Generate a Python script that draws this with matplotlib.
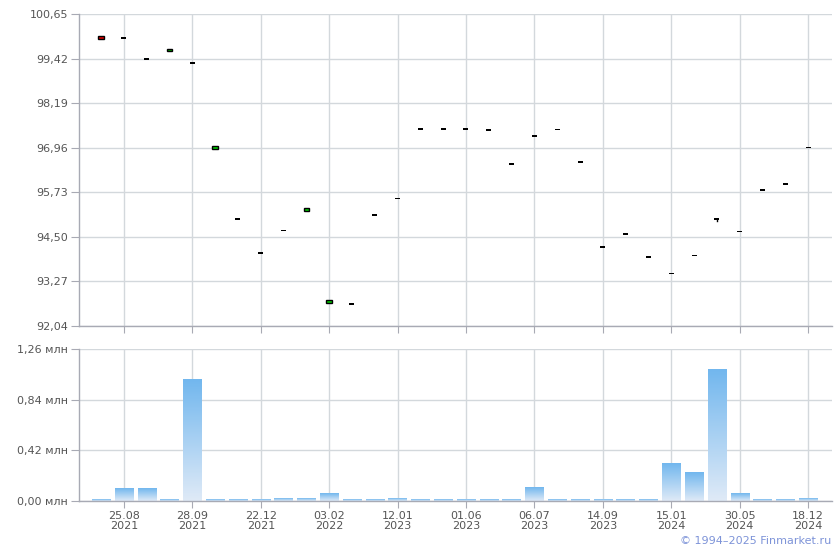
import numpy as np
import matplotlib.pyplot as plt
from matplotlib.patches import Rectangle
from matplotlib.colors import LinearSegmentedColormap

# price candles (open / close / high / low), one per period
opens = [100.04, 99.98, 99.40, 99.62, 99.30, 96.93, 94.99, 94.05, 94.67, 95.22,
         92.68, 92.64, 95.10, 95.56, 97.48, 97.48, 97.48, 97.45, 96.51, 97.28,
         97.46, 96.57, 94.22, 94.58, 93.94, 93.49, 93.99, 94.99, 94.65, 95.79,
         95.96, 96.97]
closes = [99.97, 99.98, 99.40, 99.68, 99.30, 97.01, 94.99, 94.05, 94.67, 95.29,
          92.76, 92.64, 95.10, 95.56, 97.48, 97.48, 97.48, 97.45, 96.51, 97.28,
          97.46, 96.57, 94.22, 94.58, 93.94, 93.49, 93.99, 94.99, 94.65, 95.79,
          95.96, 96.97]
highs = [max(o, c) for o, c in zip(opens, closes)]
lows = [min(o, c) for o, c in zip(opens, closes)]
lows[27] = 94.93

# volume, млн
volumes = [0.01, 0.10, 0.10, 0.01, 1.005, 0.01, 0.01, 0.01, 0.02, 0.02,
           0.06, 0.01, 0.01, 0.02, 0.01, 0.01, 0.01, 0.01, 0.01, 0.11,
           0.01, 0.01, 0.01, 0.01, 0.01, 0.31, 0.24, 1.09, 0.06, 0.01,
           0.01, 0.02]

tick_labels = ["25.08\n2021", "28.09\n2021", "22.12\n2021", "03.02\n2022",
               "12.01\n2023", "01.06\n2023", "06.07\n2023", "14.09\n2023",
               "15.01\n2024", "30.05\n2024", "18.12\n2024"]
price_ticks = [92.04, 93.27, 94.50, 95.73, 96.96, 98.19, 99.42, 100.65]
vol_ticks = [0.0, 0.42, 0.84, 1.26]

n = len(opens)
x = np.arange(n)
tick_pos = x[1::3]

plt.rcParams['font.family'] = ['DejaVu Sans']
fig = plt.figure(figsize=(8.4, 5.5), dpi=100)
ax1 = fig.add_axes([79/840, (550-326)/550, 753/840, 312/550])
ax2 = fig.add_axes([79/840, (550-501)/550, 753/840, 152/550])

grid_c = '#d3d8dc'
spine_c = '#a8aab4'
lab_c = '#555555'

for ax in (ax1, ax2):
    ax.set_xlim(-0.97, 32.05)
    ax.set_xticks(tick_pos)
    ax.grid(True, color=grid_c, linewidth=1, zorder=0)
    ax.set_axisbelow(True)
    for s in ('top', 'right'):
        ax.spines[s].set_visible(False)
    for s in ('left', 'bottom'):
        ax.spines[s].set_color(spine_c)
        ax.spines[s].set_linewidth(1)
    ax.tick_params(axis='y', length=6, color=spine_c, labelsize=8, labelcolor=lab_c, pad=2)
    ax.tick_params(axis='x', length=5, color=spine_c, labelsize=8, labelcolor=lab_c, pad=2)

# --- price panel
ax1.set_ylim(price_ticks[0], price_ticks[-1])
ax1.set_yticks(price_ticks)
ax1.set_yticklabels([f"{v:.2f}".replace('.', ',') for v in price_ticks])
ax1.set_xticklabels([])

px = (price_ticks[-1] - price_ticks[0]) / 312.0
for i in range(n):
    o, c = opens[i], closes[i]
    if highs[i] > max(o, c) or lows[i] < min(o, c):
        ax1.plot([i, i], [lows[i], highs[i]], color='black', lw=1, zorder=3)
    if o == c:
        ax1.add_patch(Rectangle((i - 0.11, c - 0.8 * px), 0.22, 1.6 * px,
                                facecolor='black', edgecolor='none', zorder=4))
    else:
        col = '#00cc00' if c > o else '#dd0000'
        ax1.add_patch(Rectangle((i - 0.12, min(o, c)), 0.24, abs(c - o),
                                facecolor=col, edgecolor='black', lw=1, zorder=4))

# --- volume panel
cmap = LinearSegmentedColormap.from_list('vol', ['#dfeaf7', '#72b7ee'])
grad = np.linspace(0, 1, 100).reshape(-1, 1)
for i in range(n):
    ax2.imshow(grad, extent=[i - 0.4, i + 0.4, 0, volumes[i]], origin='lower',
               aspect='auto', cmap=cmap, zorder=2, interpolation='bilinear')
ax2.set_xlim(-0.97, 32.05)
ax2.set_ylim(vol_ticks[0], vol_ticks[-1])
ax2.set_yticks(vol_ticks)
ax2.set_yticklabels([f"{v:.2f} млн".replace('.', ',') for v in vol_ticks])
ax2.set_xticklabels(tick_labels, linespacing=1.0)

fig.text(831/840, 4/550, "© 1994–2025 Finmarket.ru", ha='right', va='bottom',
         color='#7d93d8', fontsize=8)

fig.savefig('out.png', dpi=100)
